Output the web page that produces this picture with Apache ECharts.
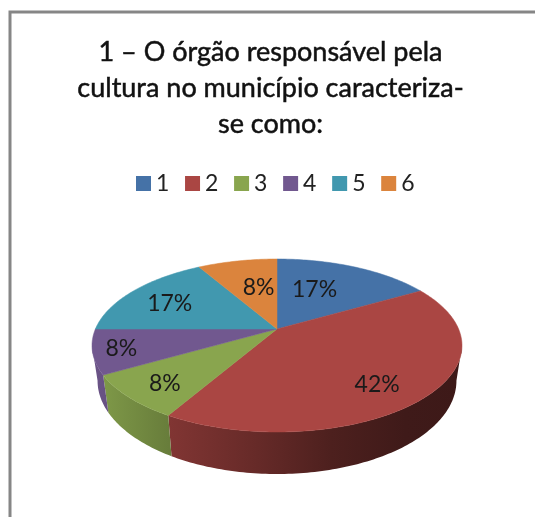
<!DOCTYPE html>
<html>
<head>
<meta charset="utf-8">
<script src="https://cdn.jsdelivr.net/npm/echarts@6/dist/echarts.min.js"></script>
<style>html,body{margin:0;padding:0;background:#fff}#c{width:535px;height:517px}</style>
</head>
<body>
<div id="c"></div>
<script>
const categories = ['1', '2', '3', '4', '5', '6'];
const values = [2, 5, 1, 1, 2, 1];
const colors = ['#4572A7', '#AA4643', '#89A54E', '#71588F', '#4198AF', '#DB843D'];
const titleLines = ['1 – O órgão responsável pela', 'cultura no município caracteriza-', 'se como:'];

// Perspective of the tilted disc
const view = { cx: 277, cy: 329, a: 181.6, b: 83.35, p: 0.1907, depth: 34, floorScale: 0.97 };
// Label placement within each slice: radius fraction and small nudge
const labelRadius = [0.6, 0.75, 0.8, 0.85, 0.65, 0.6];
const labelNudge = [[-12, 0], [-7, 6], [3, 2], [0, 0], [-11, 0], [7, 2]];

const total = values.reduce((s, v) => s + v, 0);
function project(deg, r) {
  const t = deg * Math.PI / 180, u = Math.sin(t) * r, v = Math.cos(t) * r;
  const w = 1 + view.p * v;
  return [view.cx + view.a * u / w, view.cy - view.b * v / w, w];
}
function shadeColor(hex, f) {
  const n = parseInt(hex.slice(1), 16);
  const c = [(n >> 16) & 255, (n >> 8) & 255, n & 255].map(x => Math.round(x * f));
  return 'rgb(' + c.join(',') + ')';
}
const shadeStops = [[0, 0.95], [0.21, 0.76], [0.45, 0.6], [0.65, 0.45], [0.85, 0.37], [1, 0.36]];
const tangent = Math.acos(-view.p) * 180 / Math.PI;

function renderSlice(params, api) {
  const start = api.value(0) / total * 360, end = api.value(1) / total * 360;
  const idx = params.seriesIndex, base = colors[idx];
  const children = [];
  // side wall: only the part of the rim facing the viewer
  const s0 = Math.max(start, tangent), s1 = Math.min(end, 360 - tangent);
  if (s1 > s0) {
    const upper = [], lower = [];
    for (let d = s0; d <= s1 + 0.001; d += 1) {
      const q = project(Math.min(d, s1), 1);
      upper.push([q[0], q[1]]);
      lower.unshift([view.cx + (q[0] - view.cx) * view.floorScale, q[1] + view.depth / q[2]]);
    }
    children.push({
      type: 'polygon',
      shape: { points: upper.concat(lower) },
      style: {
        fill: {
          type: 'linear', x: 91, y: 0, x2: 461, y2: 0, global: true,
          colorStops: shadeStops.map(s => ({ offset: s[0], color: shadeColor(base, s[1]) }))
        }
      }
    });
  }
  // top face
  const pts = [project(0, 0).slice(0, 2)];
  for (let d = start; d <= end + 0.001; d += 1) pts.push(project(Math.min(d, end), 1).slice(0, 2));
  children.push({
    type: 'polygon',
    shape: { points: pts },
    style: { fill: base, stroke: base, lineWidth: 0.5 }
  });
  // percentage label
  const mid = project((start + end) / 2, labelRadius[idx]);
  children.push({
    type: 'text',
    z2: 10,
    style: {
      text: Math.round(api.value(2) / total * 100) + '%',
      x: mid[0] + labelNudge[idx][0],
      y: mid[1] + labelNudge[idx][1],
      align: 'center',
      verticalAlign: 'middle',
      fill: '#1a1a1a',
      font: '400 23px Lato'
    }
  });
  return { type: 'group', children };
}

let cum = 0;
const series = categories.map((name, i) => {
  const item = [cum, cum + values[i], values[i]];
  cum += values[i];
  return {
    type: 'custom',
    name,
    coordinateSystem: 'none',
    silent: true,
    animation: false,
    itemStyle: { color: colors[i] },
    renderItem: renderSlice,
    data: [item]
  };
});

const chart = echarts.init(document.getElementById('c'), null, { renderer: 'canvas' });
chart.setOption({
  animation: false,
  backgroundColor: '#ffffff',
  color: colors,
  title: {
    text: titleLines.join('\n'),
    left: 265.5,
    top: 29,
    textAlign: 'center',
    textStyle: {
      fontFamily: 'Lato', fontSize: 27, fontWeight: 400, color: '#111', lineHeight: 36,
      textBorderColor: '#111', textBorderWidth: 0.5
    }
  },
  legend: {
    data: categories,
    left: 131,
    top: 167,
    icon: 'rect',
    itemWidth: 15,
    itemHeight: 15,
    itemGap: 15.7,
    textStyle: { fontFamily: 'Lato', fontSize: 23, color: '#222' }
  },
  graphic: [{
    type: 'rect',
    shape: { x: 10, y: 12, width: 560, height: 540 },
    style: { fill: 'none', stroke: '#868686', lineWidth: 3 },
    silent: true
  }],
  series
});
</script>
</body>
</html>
